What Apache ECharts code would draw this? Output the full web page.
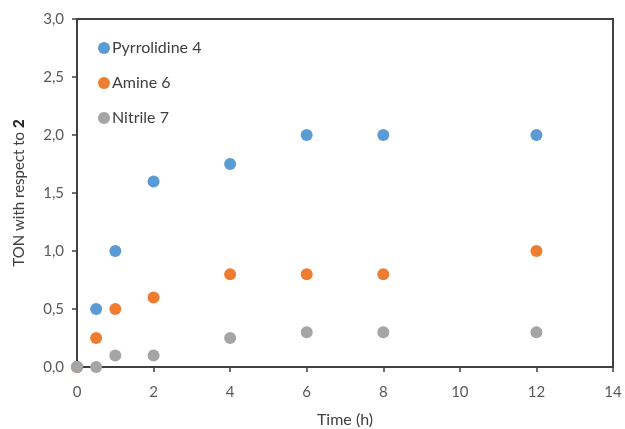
<!DOCTYPE html>
<html><head><meta charset="utf-8">
<script src="https://cdn.jsdelivr.net/npm/echarts@6/dist/echarts.min.js"></script>
<style>html,body{margin:0;padding:0;background:#fff}#c{width:625px;height:429px}</style>
</head><body><div id="c"></div>
<script>
const seriesNames = ['Pyrrolidine 4', 'Amine 6', 'Nitrile 7'];
const pyrrolidine = [[0,0],[0.5,0.5],[1,1.0],[2,1.6],[4,1.75],[6,2.0],[8,2.0],[12,2.0]];
const amine = [[0,0],[0.5,0.25],[1,0.5],[2,0.6],[4,0.8],[6,0.8],[8,0.8],[12,1.0]];
const nitrile = [[0,0],[0.5,0],[1,0.1],[2,0.1],[4,0.25],[6,0.3],[8,0.3],[12,0.3]];
const colors = ['#5B9BD5','#ED7D31','#A5A5A5'];
const FONT = 'Lato, "Open Sans", sans-serif';
const chart = echarts.init(document.getElementById('c'));
const fmt = v => v.toFixed(1).replace('.', ',');
chart.setOption({
  animation:false,
  backgroundColor:'#fff',
  color: colors,
  grid:{left:77, top:19, right:12, bottom:62, outerBoundsMode:'none', containLabel:false, show:true, borderColor:'#404040', borderWidth:2, backgroundColor:'transparent'},
  legend:{
    orient:'vertical', left:93, top:35, itemGap:19, itemWidth:12, itemHeight:12,
    icon:'circle',
    textStyle:{fontFamily:FONT, fontSize:16, color:'#404040', padding:[0,0,0,-3]},
    data: seriesNames
  },
  xAxis:{
    type:'value', min:0, max:14, interval:2,
    name:'Time (h)', nameLocation:'middle', nameGap:45,
    nameTextStyle:{fontFamily:FONT, fontSize:16, color:'#404040'},
    axisLine:{lineStyle:{color:'#404040', width:2}},
    axisTick:{show:true, inside:false, length:5, lineStyle:{color:'#404040', width:1.5}},
    axisLabel:{fontFamily:FONT, fontSize:15, color:'#595959', margin:18},
    splitLine:{show:false}
  },
  yAxis:{
    type:'value', min:0, max:3, interval:0.5,
    name:'{n|TON with respect to }{b|2}', nameLocation:'middle', nameGap:50,
    nameTextStyle:{rich:{
      n:{fontFamily:FONT, fontSize:15, color:'#404040'},
      b:{fontFamily:FONT, fontSize:15, color:'#262626', fontWeight:900}
    }},
    axisLine:{show:true, lineStyle:{color:'#404040', width:2}},
    axisTick:{show:true, inside:false, length:5, lineStyle:{color:'#404040', width:1.5}},
    axisLabel:{fontFamily:FONT, fontSize:15, color:'#595959', margin:13, formatter:fmt},
    splitLine:{show:false}
  },
  series:[
    {name:seriesNames[0], type:'scatter', symbolSize:12, itemStyle:{opacity:1}, data:pyrrolidine},
    {name:seriesNames[1], type:'scatter', symbolSize:12, itemStyle:{opacity:1}, data:amine},
    {name:seriesNames[2], type:'scatter', symbolSize:12, itemStyle:{opacity:1}, data:nitrile}
  ]
});
</script></body></html>
